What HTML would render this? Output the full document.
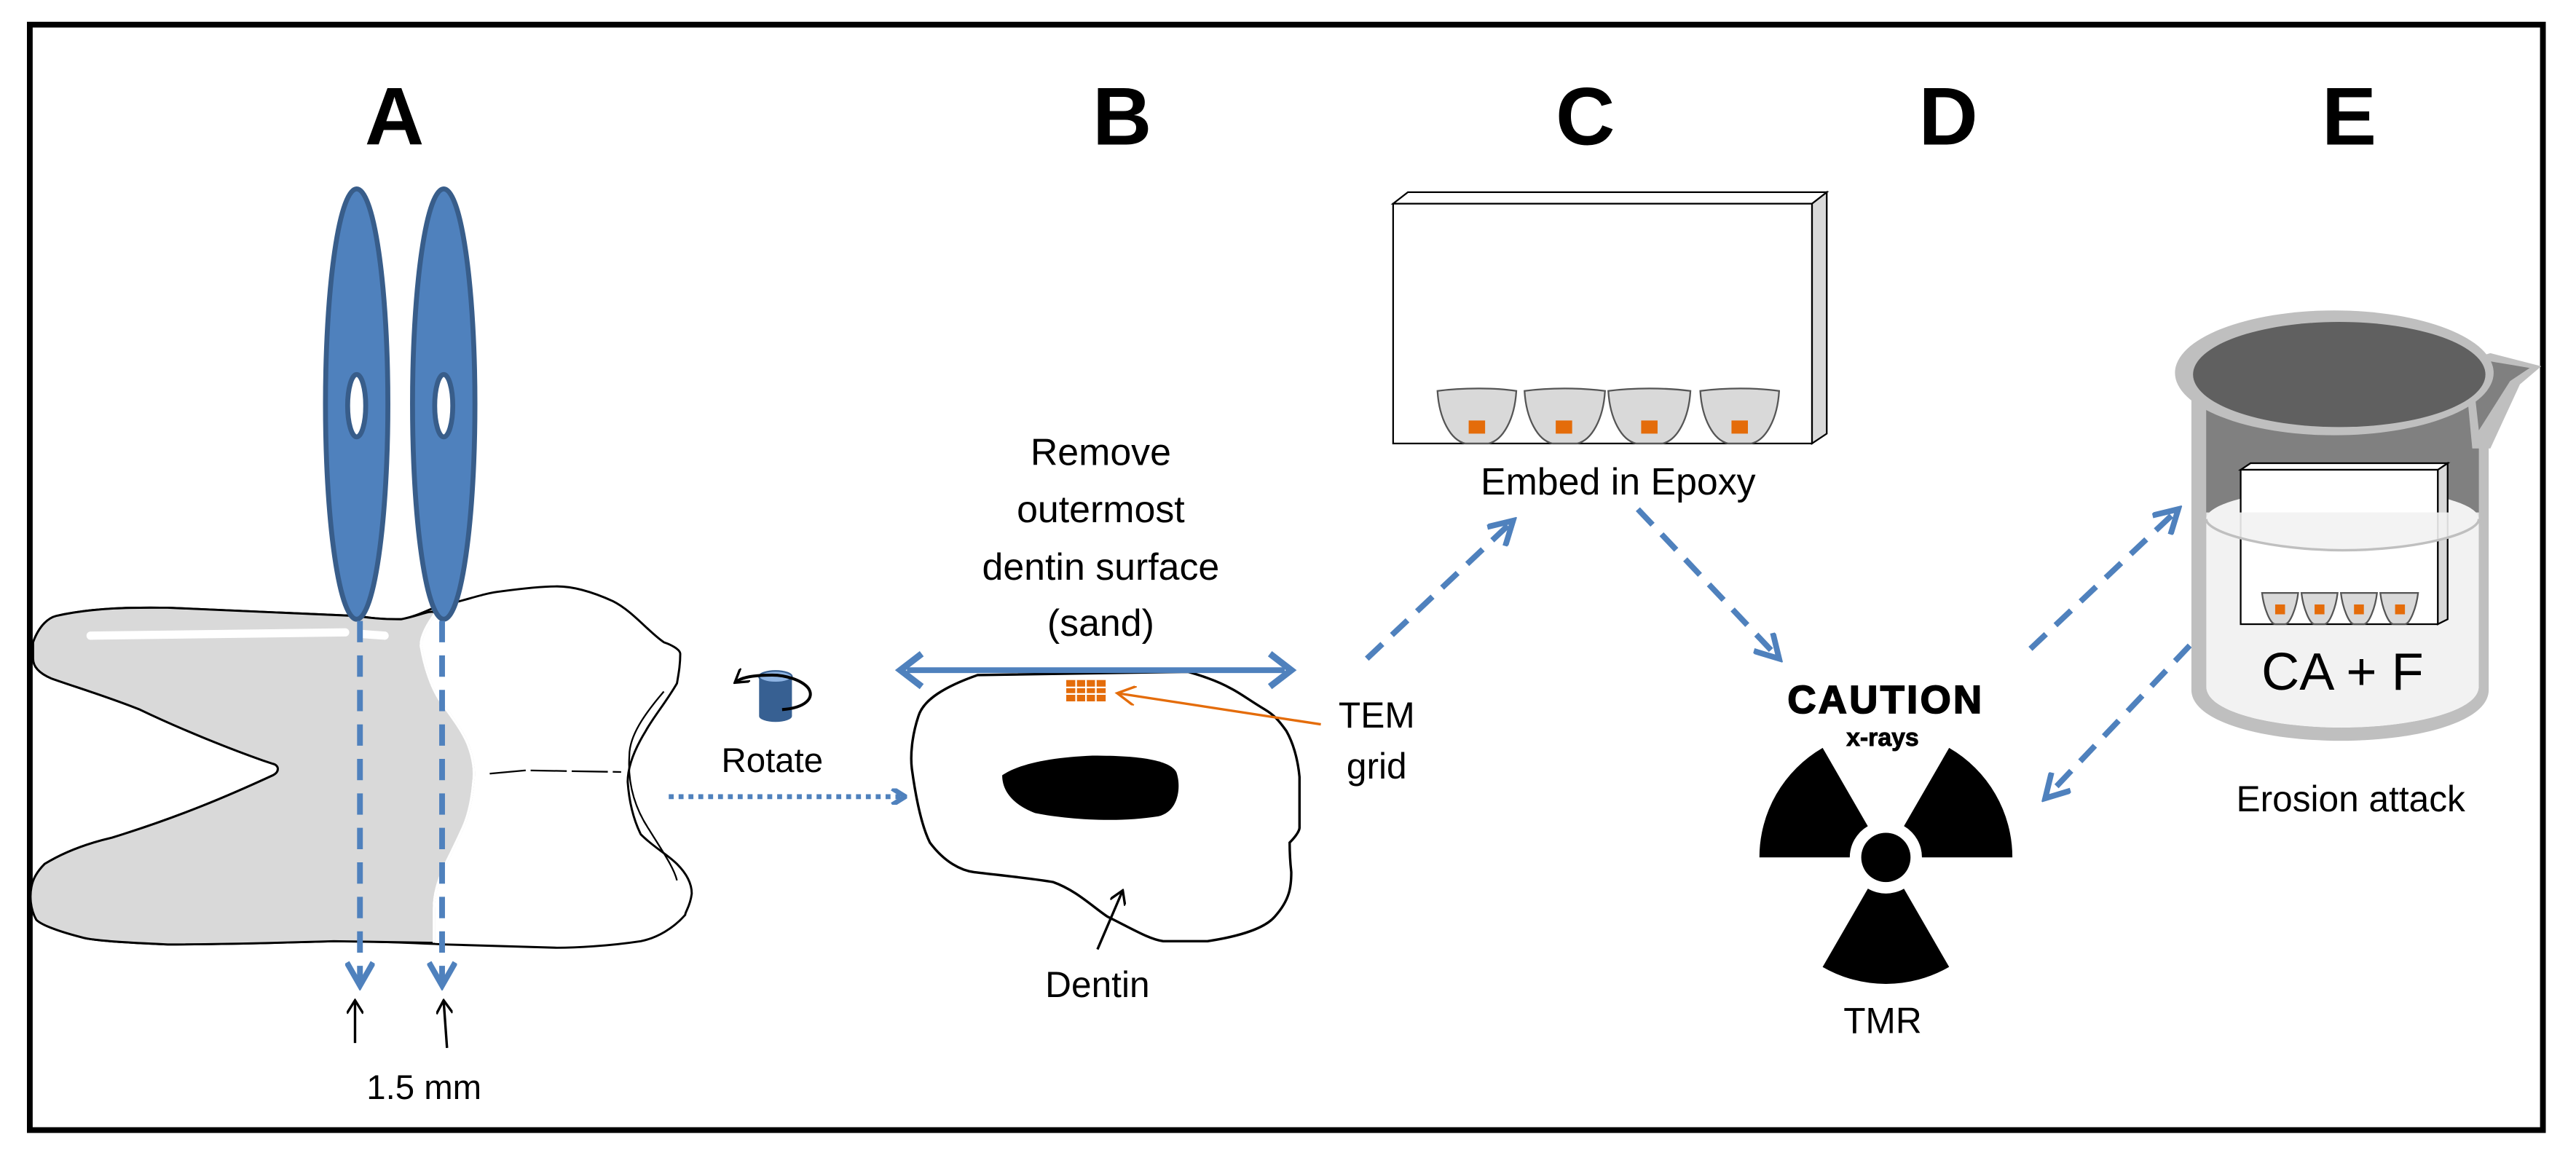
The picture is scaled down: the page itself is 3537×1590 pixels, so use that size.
<!DOCTYPE html>
<html><head><meta charset="utf-8"><style>
html,body{margin:0;padding:0;background:#fff}
svg{display:block}
text{font-family:"Liberation Sans",Arial,sans-serif}
</style></head><body>
<svg width="3537" height="1590" viewBox="0 0 1568 705" xmlns="http://www.w3.org/2000/svg">
<defs>
<marker id="ah" markerWidth="10" markerHeight="10" refX="8" refY="5" orient="auto" markerUnits="userSpaceOnUse"><path d="M1,0 L9,5 L1,10" fill="none" stroke="#4f81bd" stroke-width="3"/></marker>
<marker id="ahb" markerWidth="18" markerHeight="18" refX="15" refY="9" orient="auto" markerUnits="userSpaceOnUse"><path d="M1,1 L15,9 L1,17" fill="none" stroke="#4f81bd" stroke-width="3.5"/></marker>
<marker id="ahk" markerWidth="10" markerHeight="10" refX="8" refY="5" orient="auto" markerUnits="userSpaceOnUse"><path d="M1,0 L9,5 L1,10" fill="none" stroke="#000" stroke-width="1.5"/></marker>
<marker id="aho" markerWidth="14" markerHeight="12" refX="12" refY="6" orient="auto" markerUnits="userSpaceOnUse"><path d="M1,0 L12,6 L1,12" fill="none" stroke="#e46c0a" stroke-width="1.5"/></marker>
</defs>
<rect x="18" y="15" width="1530" height="673" fill="#fff" stroke="#000" stroke-width="3.5"/>

<g font-weight="bold" font-size="50" text-anchor="middle">
<text x="240" y="88">A</text><text x="683" y="88">B</text><text x="965" y="88">C</text><text x="1186" y="88">D</text><text x="1430" y="88">E</text>
</g>

<!-- tooth: full outline white -->
<path d="M20,391 C24,380 30,376 34,375 C60,369 90,370 102,370 C150,372 200,374 217,375 C230,377 238,377 244,377 C255,375 262,370 268,369 C285,365 295,361 305,360 C320,358 330,357 339,357 C350,357 362,361 373,366 C385,372 395,385 404,391 C410,393 414,396 414,398 C414,405 413,410 412,416 C405,428 398,436 393,445 C385,458 382,468 382,476 C383,490 386,500 390,508 C398,516 406,520 412,526 C418,532 421,538 421,544 C420,552 417,555 417,557 C410,565 400,571 390,573 C370,576 350,577 339,577 L271,575 C250,574 220,573 203,573 C170,574 130,575 102,575 C80,574 60,573 51,571 C35,567 25,563 22,560 C18,553 18,545 19,540 C20,534 24,529 27,526 C40,518 55,513 68,510 C110,497 140,484 166,472 C170,470 170,466 166,465 L160,463 C140,456 110,444 85,432 C65,424 45,418 31,413 C24,410 20,406 20,401 Z" fill="#fff" stroke="#000" stroke-width="1.3"/>
<!-- grey part -->
<path d="M20,391 C24,380 30,376 34,375 C60,369 90,370 102,370 C150,372 200,374 217,375 C230,377 238,377 244,377 C255,375 262,371 265,373 C260,380 256,387 256,393 C258,405 262,418 268,427 C276,438 282,446 285,454 C288,462 289,470 288,476 C287,488 285,496 282,503 C278,512 274,520 271,526 C266,537 264,545 264,553 L264,574 L203,573 C170,574 130,575 102,575 C80,574 60,573 51,571 C35,567 25,563 22,560 C18,553 18,545 19,540 C20,534 24,529 27,526 C40,518 55,513 68,510 C110,497 140,484 166,472 C170,470 170,466 166,465 L160,463 C140,456 110,444 85,432 C65,424 45,418 31,413 C24,410 20,406 20,401 Z" fill="#d9d9d9" stroke="#000" stroke-width="1.3"/>
<path d="M265,373 C260,380 256,387 256,393 C258,405 262,418 268,427 C276,438 282,446 285,454 C288,462 289,470 288,476 C287,488 285,496 282,503 C278,512 274,520 271,526 C266,537 264,545 264,553 L264,574" fill="none" stroke="#fff" stroke-width="1.5"/>
<path d="M55,387 L210,385" stroke="#fff" stroke-width="5" stroke-linecap="round"/>
<path d="M220,386 L234,387" stroke="#fff" stroke-width="5" stroke-linecap="round"/>
<path d="M298,471 L320,469 L378,470" fill="none" stroke="#000" stroke-width="1" stroke-dasharray="22,3"/>
<path d="M404,421 C392,435 383,448 383,460 C382,475 385,490 395,505 C403,518 410,528 412,536" fill="none" stroke="#000" stroke-width="1"/>
<!-- blades -->
<ellipse cx="217" cy="246" rx="19" ry="131" fill="#4f81bd" stroke="#385d8a" stroke-width="3"/>
<ellipse cx="270" cy="246" rx="19" ry="131" fill="#4f81bd" stroke="#385d8a" stroke-width="3"/>
<ellipse cx="217" cy="247" rx="5.5" ry="19" fill="#fff" stroke="#385d8a" stroke-width="3"/>
<ellipse cx="270" cy="247" rx="5.5" ry="19" fill="#fff" stroke="#385d8a" stroke-width="3"/>
<line x1="219" y1="378" x2="219" y2="600" stroke="#4f81bd" stroke-width="3.5" stroke-dasharray="13,8" marker-end="url(#ahb)"/>
<line x1="269" y1="378" x2="269" y2="600" stroke="#4f81bd" stroke-width="3.5" stroke-dasharray="13,8" marker-end="url(#ahb)"/>
<line x1="216" y1="635" x2="216" y2="610" stroke="#000" stroke-width="1.5" marker-end="url(#ahk)"/>
<line x1="272" y1="638" x2="270" y2="610" stroke="#000" stroke-width="1.5" marker-end="url(#ahk)"/>
<text x="258" y="669" font-size="21" text-anchor="middle">1.5 mm</text>

<!-- rotate -->
<rect x="462" y="412" width="20" height="24" fill="#376092"/>
<ellipse cx="472" cy="436" rx="10" ry="3.5" fill="#376092"/>
<ellipse cx="472" cy="412" rx="10" ry="3.5" fill="#8eb4e3" stroke="#376092"/>
<path d="M476,432 C490,431 496,425 492,419 C488,414 478,411 470,411 C460,411 452,412 448,415" fill="none" stroke="#000" stroke-width="1.8" marker-end="url(#ahk)"/>
<text x="470" y="470" font-size="21" text-anchor="middle">Rotate</text>
<line x1="407" y1="485" x2="550" y2="485" stroke="#4f81bd" stroke-width="3" stroke-dasharray="3,3" marker-end="url(#ah)"/>

<!-- B -->
<path d="M595,411 C575,418 562,426 559,436 C555,448 554,460 555,468 C558,490 562,505 566,513 C575,525 585,530 593,531 C610,533 630,535 641,537 C655,542 665,552 674,558 C690,566 700,572 708,573 L735,573 C755,570 770,565 776,558 C785,548 786,540 786,531 C785,522 785,516 785,513 C790,508 791,505 791,504 L791,473 C790,462 787,452 783,445 C778,438 775,435 770,432 C760,426 755,422 749,419 C740,414 730,411 723,409 Z" fill="#fff" stroke="#000" stroke-width="1.5"/>
<path d="M610,472 C620,465 640,461 665,460 C695,460 712,463 716,470 C719,478 718,494 705,497 C680,501 650,499 630,495 C617,490 610,482 610,472 Z" fill="#000"/>
<line x1="552" y1="408" x2="782" y2="408" stroke="#4f81bd" stroke-width="3.5"/>
<path d="M561,398 L548,408 L561,418 M773,398 L786,408 L773,418" fill="none" stroke="#4f81bd" stroke-width="4"/>
<rect x="649" y="414" width="24" height="13" fill="#e46c0a"/>
<g stroke="#fff" stroke-width="1"><line x1="649" y1="418.5" x2="673" y2="418.5"/><line x1="649" y1="422.5" x2="673" y2="422.5"/><line x1="655" y1="414" x2="655" y2="427"/><line x1="661" y1="414" x2="661" y2="427"/><line x1="667" y1="414" x2="667" y2="427"/></g>
<line x1="804" y1="441" x2="680" y2="422" stroke="#e46c0a" stroke-width="1.5" marker-end="url(#aho)"/>
<text x="838" y="443" font-size="22" text-anchor="middle">TEM</text>
<text x="838" y="474" font-size="22" text-anchor="middle">grid</text>
<g font-size="23" text-anchor="middle"><text x="670" y="283">Remove</text><text x="670" y="318">outermost</text><text x="670" y="353">dentin surface</text><text x="670" y="387">(sand)</text></g>
<line x1="668" y1="578" x2="683" y2="543" stroke="#000" stroke-width="1.5" marker-end="url(#ahk)"/>
<text x="668" y="607" font-size="22" text-anchor="middle">Dentin</text>

<!-- C -->
<path d="M1103,124 L1112,117 L1112,264 L1103,270 Z" fill="#d9d9d9" stroke="#000" stroke-width="1"/>
<path d="M848,124 L857,117 L1112,117 L1103,124 Z" fill="#fff" stroke="#000" stroke-width="1"/>
<rect x="848" y="124" width="255" height="146" fill="#fff" stroke="#000" stroke-width="1"/>
<g fill="#d9d9d9" stroke="#555" stroke-width="1">
<path d="M875,238 C890,236 910,236 923,238 C922,255 915,268 906,270 L892,270 C883,268 876,255 875,238 Z"/>
<path d="M928,238 C943,236 962,236 977,238 C976,255 969,268 960,270 L945,270 C936,268 929,255 928,238 Z"/>
<path d="M979,238 C994,236 1014,236 1029,238 C1028,255 1021,268 1012,270 L996,270 C987,268 980,255 979,238 Z"/>
<path d="M1035,238 C1050,236 1069,236 1083,238 C1082,255 1075,268 1066,270 L1052,270 C1043,268 1036,255 1035,238 Z"/>
</g>
<g fill="#e46c0a"><rect x="894" y="256" width="10" height="8"/><rect x="947" y="256" width="10" height="8"/><rect x="999" y="256" width="10" height="8"/><rect x="1054" y="256" width="10" height="8"/></g>
<text x="985" y="301" font-size="23" text-anchor="middle">Embed in Epoxy</text>
<line x1="832" y1="401" x2="921" y2="317" stroke="#4f81bd" stroke-width="3.5" stroke-dasharray="13,8" marker-end="url(#ahb)"/>
<line x1="997" y1="310" x2="1083" y2="401" stroke="#4f81bd" stroke-width="3.5" stroke-dasharray="13,8" marker-end="url(#ahb)"/>

<!-- D -->
<text x="1148" y="434" font-size="24" font-weight="900" text-anchor="middle" letter-spacing="1.5" stroke="#000" stroke-width="0.8">CAUTION</text>
<text x="1146" y="454" font-size="15" font-weight="bold" text-anchor="middle" stroke="#000" stroke-width="0.4">x-rays</text>
<g transform="translate(1148,522)" fill="#000">
<circle r="15"/>
<path id="b" d="M-22,0 L-77,0 A77,77 0 0 1 -38.5,-66.7 L-11,-19 A22,22 0 0 0 -22,0 Z"/>
<use href="#b" transform="rotate(120)"/><use href="#b" transform="rotate(240)"/>
</g>
<text x="1146" y="629" font-size="22" text-anchor="middle">TMR</text>
<line x1="1236" y1="395" x2="1326" y2="310" stroke="#4f81bd" stroke-width="3.5" stroke-dasharray="13,8" marker-end="url(#ahb)"/>
<line x1="1333" y1="393" x2="1245" y2="486" stroke="#4f81bd" stroke-width="3.5" stroke-dasharray="13,8" marker-end="url(#ahb)"/>

<!-- E beaker -->
<path d="M1334,228 L1334,420 C1334,440 1380,451 1425,451 C1470,451 1515,440 1515,420 L1515,228 Z" fill="#bfbfbf"/>
<path d="M1343,236 L1343,418 C1343,434 1385,443 1425,443 C1465,443 1509,434 1509,418 L1509,236 Z" fill="#808080"/>
<path d="M1500,220 L1516,215 L1547,223 L1534,234 L1516,273 L1505,273 Z" fill="#bfbfbf"/>
<path d="M1505,226 L1516,220 L1540,224 L1528,232 L1509,262 Z" fill="#808080"/>
<ellipse cx="1421" cy="227" rx="97" ry="38" fill="#bfbfbf"/>
<ellipse cx="1424" cy="228" rx="89" ry="32" fill="#606060"/>
<path d="M1343,316 L1343,418 C1343,434 1385,443 1425,443 C1465,443 1509,434 1509,418 L1509,316 Z" fill="#f2f2f2"/>
<path d="M1343,316 C1343,305 1385,297 1426,297 C1470,297 1509,305 1509,316 Z" fill="#f2f2f2"/>
<path d="M1484,286 L1490,282 L1490,377 L1484,380 Z" fill="#d9d9d9" stroke="#000" stroke-width="1"/>
<path d="M1364,286 L1370,282 L1490,282 L1484,286 Z" fill="#fff" stroke="#000" stroke-width="1"/>
<rect x="1364" y="286" width="120" height="94" fill="#fff" stroke="#000" stroke-width="1"/>
<path d="M1343,316 C1343,325 1385,335 1426,335 C1470,335 1509,325 1509,316 L1509,312 L1343,312 Z" fill="#f2f2f2" fill-opacity="0.9"/>
<path d="M1343,316 C1343,325 1385,335 1426,335 C1470,335 1509,325 1509,316" fill="none" stroke="#bfbfbf" stroke-width="1.5"/>
<g fill="#d9d9d9" stroke="#555" stroke-width="1">
<path d="M1377,361 L1399,361 C1398,370 1394,380 1391,380 L1385,380 C1382,380 1378,370 1377,361 Z"/>
<path d="M1401,361 L1423,361 C1422,370 1418,380 1415,380 L1409,380 C1406,380 1402,370 1401,361 Z"/>
<path d="M1425,361 L1447,361 C1446,370 1442,380 1439,380 L1433,380 C1430,380 1426,370 1425,361 Z"/>
<path d="M1449,361 L1472,361 C1471,370 1467,380 1464,380 L1457,380 C1454,380 1450,370 1449,361 Z"/>
</g>
<g fill="#e46c0a"><rect x="1385" y="368" width="6" height="6"/><rect x="1409" y="368" width="6" height="6"/><rect x="1433" y="368" width="6" height="6"/><rect x="1458" y="368" width="6" height="6"/></g>
<text x="1426" y="420" font-size="32" text-anchor="middle">CA + F</text>
<text x="1431" y="494" font-size="22" text-anchor="middle">Erosion attack</text>
</svg>
</body></html>
